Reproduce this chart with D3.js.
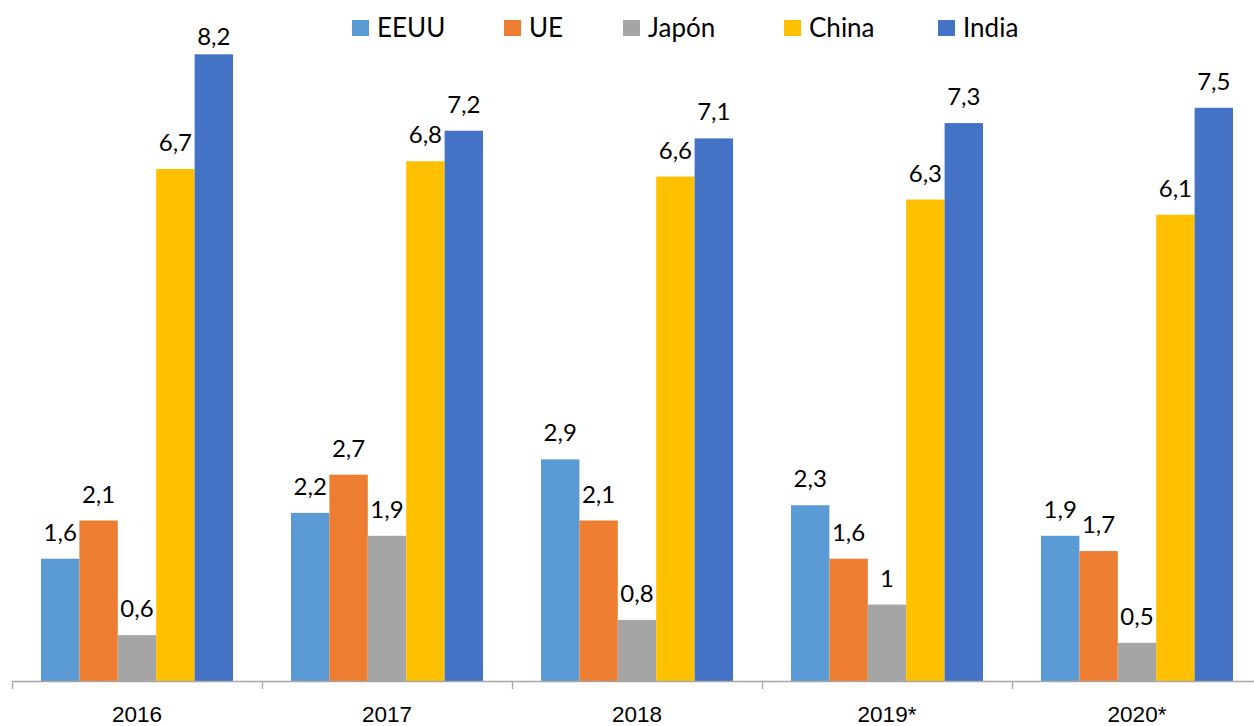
<!DOCTYPE html>
<html>
<head>
<meta charset="utf-8">
<script src="https://cdn.jsdelivr.net/npm/d3@7"></script>
<style>
  html, body { margin: 0; padding: 0; background: #fff; }
  svg { display: block; font-family: Lato, Carlito, Calibri, "Liberation Sans", Arial, sans-serif; }
</style>
</head>
<body>
<div id="chart"></div>
<script>
// crecimiento por año y por economía
const years = ["2016", "2017", "2018", "2019*", "2020*"];
const seriesNames = ["EEUU", "UE", "Japón", "China", "India"];
const eeuu  = [1.6, 2.2, 2.9, 2.3, 1.9];
const ue    = [2.1, 2.7, 2.1, 1.6, 1.7];
const japon = [0.6, 1.9, 0.8, 1, 0.5];
const china = [6.7, 6.8, 6.6, 6.3, 6.1];
const india = [8.2, 7.2, 7.1, 7.3, 7.5];
const colors = ["#5B9BD5", "#ED7D31", "#A5A5A5", "#FFC000", "#4472C4"];

const seriesValues = [eeuu, ue, japon, china, india];

// tabla plana para los rects
const data = [];
years.forEach((yr, i) => {
  seriesNames.forEach((s, j) => {
    data.push({ year: yr, serie: s, value: seriesValues[j][i], color: colors[j] });
  });
});

const W = 1254, H = 726;
const baseY = 681;
const plotTop = 45; // las etiquetas no suben más arriba

const svg = d3.select("#chart").append("svg")
  .attr("width", W)
  .attr("height", H);

const x0 = d3.scaleBand()
  .domain(years)
  .range([12, 1262])
  .padding(0);

const x1 = d3.scaleBand()
  .domain(seriesNames)
  .range([0, x0.bandwidth()])
  .paddingInner(0)
  .paddingOuter(0.755);

const y = d3.scaleLinear()
  .domain([0, 8.2])
  .range([baseY, 54.3]);

const fmt = v => String(v).replace(".", ",");

// barras
svg.append("g").selectAll("rect")
  .data(data)
  .enter().append("rect")
  .attr("x", d => x0(d.year) + x1(d.serie))
  .attr("y", d => y(d.value))
  .attr("width", x1.bandwidth())
  .attr("height", d => baseY - y(d.value))
  .attr("fill", d => d.color);

// etiquetas de valor
svg.append("g").selectAll("text")
  .data(data)
  .enter().append("text")
  .attr("x", d => x0(d.year) + x1(d.serie) + x1.bandwidth() / 2)
  .attr("y", d => Math.max(y(d.value) - 18, plotTop))
  .attr("text-anchor", "middle")
  .style("font-size", "24px")
  .style("fill", "#000")
  .text(d => fmt(d.value));

// eje X
const xAxis = svg.append("g")
  .attr("transform", `translate(0,${baseY})`)
  .call(d3.axisBottom(x0).tickSize(0).tickPadding(0))
  .call(g => g.select(".domain").remove());

xAxis.selectAll("text")
  .attr("y", 41)
  .attr("dy", 0)
  .style("font-size", "22.5px")
  .style("font-family", "inherit")
  .style("fill", "#000");

svg.append("line")
  .attr("x1", 12).attr("x2", W)
  .attr("y1", baseY + 0.5).attr("y2", baseY + 0.5)
  .attr("stroke", "#A6A6A6")
  .attr("stroke-width", 1.3);

svg.append("g").selectAll("line")
  .data(years)
  .enter().append("line")
  .attr("x1", d => Math.round(x0(d)) + 0.5)
  .attr("x2", d => Math.round(x0(d)) + 0.5)
  .attr("y1", baseY)
  .attr("y2", baseY + 8)
  .attr("stroke", "#A6A6A6")
  .attr("stroke-width", 1.3);

// leyenda (posición x de cada cuadro)
const legendX = [352, 504, 623, 784, 938];
const legend = svg.append("g");
seriesNames.forEach((s, j) => {
  const it = legend.append("g").attr("transform", `translate(${legendX[j]},0)`);
  it.append("rect")
    .attr("x", 0).attr("y", 20)
    .attr("width", 17).attr("height", 16)
    .attr("fill", colors[j]);
  it.append("text")
    .attr("x", 25).attr("y", 37)
    .style("font-size", "26px")
    .style("fill", "#000")
    .text(s);
});
</script>
</body>
</html>
